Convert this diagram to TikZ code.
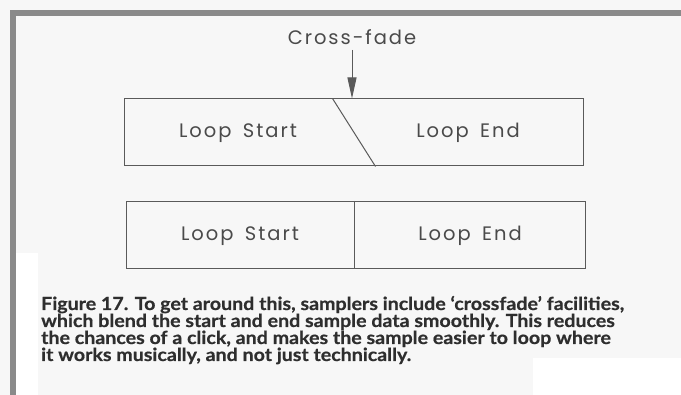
\documentclass[tikz,border=0pt]{standalone}
\usepackage{fontspec}
\setmainfont{Lato}
\newfontfamily\capfont[FakeStretch=1.09,FakeBold=0.6]{Lato}
\newfontfamily\cad[LetterSpace=10,WordSpace=1.6]{Poppins}
\usetikzlibrary{arrows.meta,calc}
\definecolor{bgc}{HTML}{F7F7F7}
\definecolor{framec}{HTML}{8A8A8A}
\definecolor{linec}{HTML}{5A5A5A}
\definecolor{cadtext}{HTML}{4A4A4A}
\definecolor{capc}{HTML}{2E2E2E}
\begin{document}
\begin{tikzpicture}[x=1pt,y=-1pt,
  boxshape/.style={draw=linec, line width=1pt, minimum width=459pt, minimum height=67pt, inner sep=0pt},
  cadlabel/.style={font=\cad\fontsize{19.5}{22}\selectfont, text=cadtext, inner sep=0pt, anchor=base},
  captext/.style={font=\capfont\bfseries\fontsize{18}{17}\selectfont, text=capc, inner sep=0pt, align=left, anchor=base west}]
\useasboundingbox (0,0) rectangle (681,395);
\fill[bgc] (0,0) rectangle (681,395);
\fill[white] (16,253) rectangle (38,395);
\fill[white] (533,358) rectangle (681,395);
\draw[framec, line width=5.5pt] (13,395) -- (13,13) -- (681,13);
% top box
\node[boxshape] (topbox) at (353.5,132.5) {};
\coordinate (d1) at ($(topbox.north west)+(209,0)$);
\coordinate (d2) at ($(topbox.south west)+(252,0)$);
\draw[linec, line width=1pt] (d1) -- (d2);
\node[cadlabel] (ls1) at (238,138) {Loop Start};
\node[cadlabel] (le1) at (468,138) {Loop End};
% cross-fade
\node[cadlabel] (cf) at (352,45) {Cross-fade};
\coordinate (cfs) at (352,50);
\draw[linec, line width=1pt, -{Triangle[length=21pt,width=9pt]}] (cfs) -- (cfs |- topbox.north);
% bottom box
\node[boxshape] (botbox) at (355.5,235) {};
\draw[linec, line width=1pt] ($(botbox.north west)+(229,0)$) coordinate (m1) -- (m1 |- botbox.south);
\node[cadlabel] (ls2) at (240,241) {Loop Start};
\node[cadlabel] (le2) at (470,241) {Loop End};
% caption
\node[captext] (cap) at (41,361) {Figure 17. To get around this, samplers include ‘crossfade’ facilities,\\
which blend the start and end sample data smoothly. This reduces\\
the chances of a click, and makes the sample easier to loop where\\
it works musically, and not just technically.};
\end{tikzpicture}
\end{document}
